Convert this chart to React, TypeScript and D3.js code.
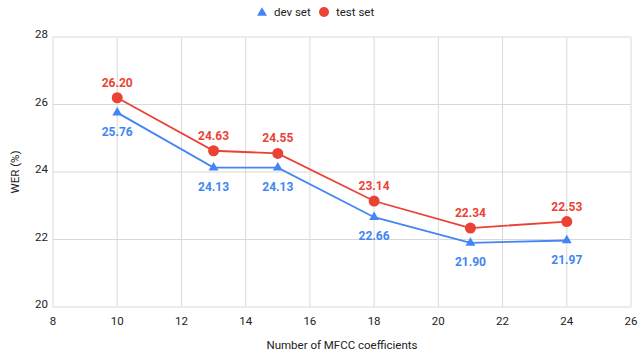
import React from "react";
import * as d3 from "d3";

// chart data
const coeffs = [10, 13, 15, 18, 21, 24];
const devWer = [25.76, 24.13, 24.13, 22.66, 21.9, 21.97];
const testWer = [26.2, 24.63, 24.55, 23.14, 22.34, 22.53];
const xTicks = [8, 10, 12, 14, 16, 18, 20, 22, 24, 26];
const yTicks = [20, 22, 24, 26, 28];

const BLUE = "#4285f4";
const RED = "#ea4335";
const FONT = "Roboto, Arial, sans-serif";

const App = () => {
  const width = 640;
  const height = 356;
  const margin = { top: 37, right: 9, bottom: 49, left: 53 };

  const x = d3.scaleLinear().domain([8, 26]).range([margin.left, width - margin.right]);
  const y = d3.scaleLinear().domain([20, 28]).range([height - margin.bottom, margin.top]);

  const line = d3
    .line<number>()
    .x((_, i) => x(coeffs[i]))
    .y((d) => y(d));

  const tri = d3.symbol().type(d3.symbolTriangle).size(42)();

  return (
    <svg width={width} height={height} style={{ position: "absolute", left: 0, top: 0 }} fontFamily={FONT}>
      <rect width={width} height={height} fill="#fff" />

      {/* grid */}
      {yTicks.map((t) => (
        <line key={"gy" + t} x1={margin.left} x2={width - margin.right} y1={y(t)} y2={y(t)} stroke="#d9d9d9" strokeWidth={1} />
      ))}
      {xTicks.map((t) => (
        <line key={"gx" + t} x1={x(t)} x2={x(t)} y1={margin.top} y2={height - margin.bottom} stroke="#d9d9d9" strokeWidth={1} />
      ))}

      {/* tick labels */}
      {yTicks.map((t) => (
        <text key={"ty" + t} x={margin.left - 5} y={y(t)} dy="0.1em" textAnchor="end" fontSize={11.5} fill="#222">
          {t}
        </text>
      ))}
      {xTicks.map((t) => (
        <text key={"tx" + t} x={x(t)} y={height - margin.bottom + 18} textAnchor="middle" fontSize={11.5} fill="#222">
          {t}
        </text>
      ))}

      {/* axis titles */}
      <text x={x(17)} y={height - 7} textAnchor="middle" fontSize={11.5} fill="#222">
        Number of MFCC coefficients
      </text>
      <text transform={`translate(19,${y(24)}) rotate(-90)`} textAnchor="middle" fontSize={11.5} fill="#222">
        WER (%)
      </text>

      {/* legend */}
      <g transform="translate(262,12)">
        <path d={tri} fill={BLUE} transform="translate(0,1)" />
        <text x={12} y={4} fontSize={11.5} fill="#222">dev set</text>
        <circle cx={62} cy={0} r={5} fill={RED} />
        <text x={74} y={4} fontSize={11.5} fill="#222">test set</text>
      </g>

      {/* series */}
      <path d={line(devWer) ?? ""} fill="none" stroke={BLUE} strokeWidth={1.8} />
      <path d={line(testWer) ?? ""} fill="none" stroke={RED} strokeWidth={1.8} />

      {devWer.map((v, i) => (
        <g key={"d" + i}>
          <path d={tri} fill={BLUE} transform={`translate(${x(coeffs[i])},${y(v)})`} />
          <text x={x(coeffs[i])} y={y(v) + 23} textAnchor="middle" fontSize={12} fontWeight="bold" fill={BLUE}>
            {v.toFixed(2)}
          </text>
        </g>
      ))}
      {testWer.map((v, i) => (
        <g key={"t" + i}>
          <circle cx={x(coeffs[i])} cy={y(v)} r={5.5} fill={RED} />
          <text x={x(coeffs[i])} y={y(v) - 11} textAnchor="middle" fontSize={12} fontWeight="bold" fill={RED}>
            {v.toFixed(2)}
          </text>
        </g>
      ))}
    </svg>
  );
};

export default App;
